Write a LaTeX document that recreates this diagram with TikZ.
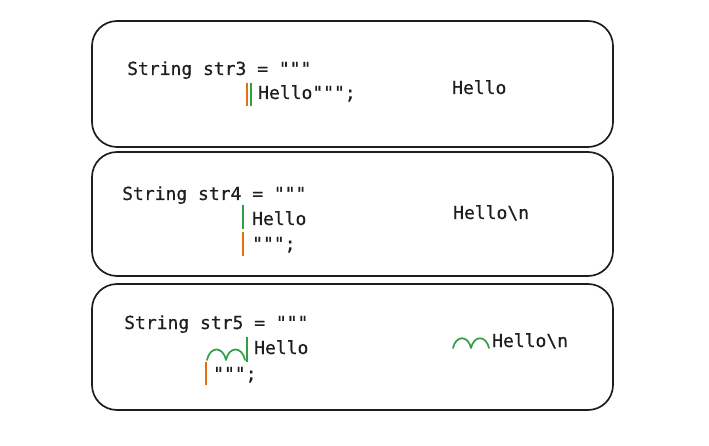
\documentclass[tikz,border=0pt]{standalone}
\usepackage{fontspec}
\setmonofont[FakeBold=0.6]{DejaVu Sans Mono}
\definecolor{exgreen}{HTML}{2F9E44}
\definecolor{exorange}{HTML}{E8700C}
\definecolor{exblack}{HTML}{1E1E1E}
\begin{document}
\begin{tikzpicture}[x=1pt,y=-1pt,
  panel/.style={draw=exblack,line width=1.7pt,rounded corners=25pt},
  code/.style={anchor=base west,inner sep=0pt,font=\ttfamily\fontsize{18}{21}\selectfont,text=exblack},
  gbar/.style={draw=exgreen,line width=1.6pt},
  obar/.style={draw=exorange,line width=1.6pt},
  hump/.style={draw=exgreen,line width=1.7pt,line cap=round,line join=round}]
\useasboundingbox (0,0) rectangle (709,446);
% panels
\draw[panel] (92,21) rectangle (613,147);
\draw[panel] (92,152) rectangle (613,276);
\draw[panel] (92,284) rectangle (613,410);
% panel 1
\node[code] (a1) at (127,75) {String str3 = """};
\node[code] (a2) at (258,99) {Hello""";};
\node[code] (a3) at (452,94) {Hello};
\draw[obar] (247,83) -- (247,106);
\draw[gbar] (251,83) -- (251,106);
% panel 2
\node[code] (b1) at (122,200) {String str4 = """};
\node[code] (b2) at (252,225) {Hello};
\node[code] (b3) at (252,250) {""";};
\node[code] (b4) at (453,219) {Hello\textbackslash n};
\draw[gbar] (243,205) -- (243,229);
\draw[obar] (243,232) -- (243,256);
% panel 3
\node[code] (c1) at (124,329) {String str5 = """};
\node[code] (c2) at (254,354) {Hello};
\node[code] (c3) at (213,380) {""";};
\node[code] (c4) at (492,347) {Hello\textbackslash n};
\draw[gbar] (247,337) -- (247,362);
\draw[obar] (206,362) -- (206,385);
\draw[hump] (207,360) .. controls (210,346) and (223,346) .. (226,360) .. controls (229,346) and (242,346) .. (245,360);
\draw[hump] (453,348) .. controls (456,335) and (468,335) .. (471,348) .. controls (474,335) and (486,335) .. (489,348);
\end{tikzpicture}
\end{document}
